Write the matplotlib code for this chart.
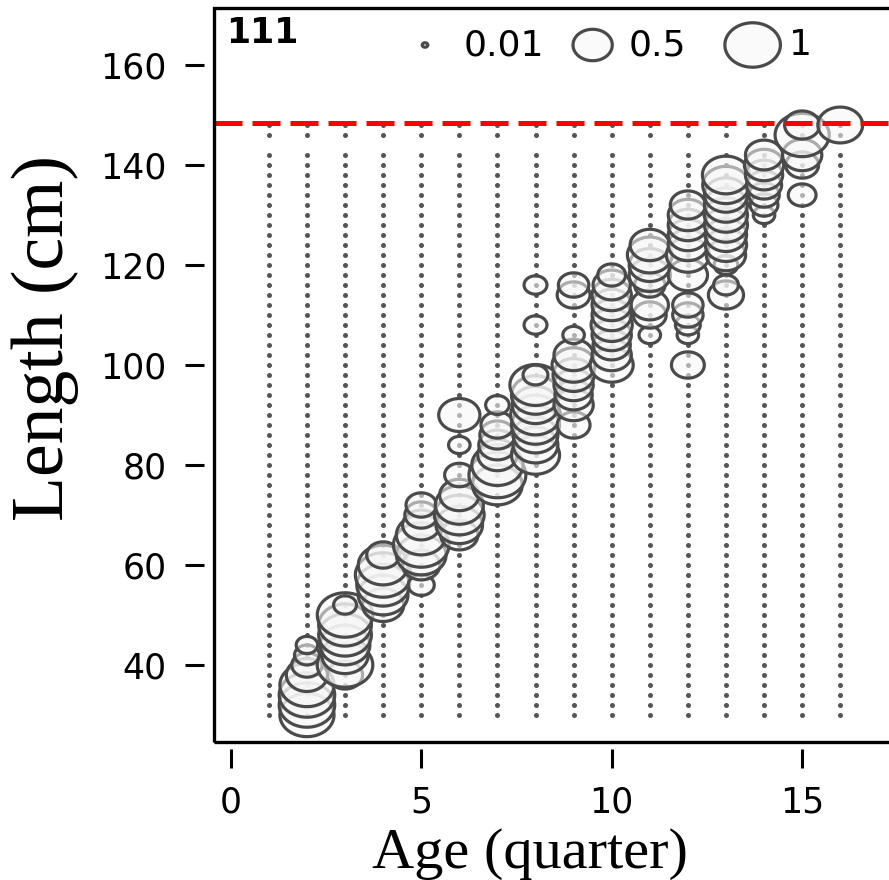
import numpy as np
import matplotlib
matplotlib.use("Agg")
import matplotlib.pyplot as plt
from matplotlib.path import Path
from matplotlib.patches import Rectangle

# ---------------- data ----------------
grid_ages = list(range(1, 17))
grid_lengths = list(range(30, 143, 2)) + [146, 148]

bubble_age = (
    [2] * 8 + [3] * 8 + [4] * 6 + [5] * 8 + [6] * 8 + [7] * 8 + [8] * 11 +
    [9] * 10 + [10] * 10 + [11] * 8 + [12] * 12 + [13] * 12 + [14] * 7 +
    [15] * 5 + [16] * 1
)
bubble_len = (
    [30, 32, 34, 36, 38, 40, 42, 44] +
    [38, 40, 42, 44, 46, 48, 50, 52] +
    [52, 54, 56, 58, 60, 62] +
    [56, 60, 62, 64, 66, 68, 70, 72] +
    [66, 68, 70, 72, 74, 78, 84, 90] +
    [76, 78, 80, 82, 84, 86, 88, 92] +
    [82, 84, 86, 88, 90, 92, 94, 96, 98, 108, 116] +
    [88, 92, 94, 96, 98, 100, 102, 106, 114, 116] +
    [100, 102, 104, 106, 108, 110, 112, 114, 116, 118] +
    [106, 110, 112, 116, 118, 120, 122, 124] +
    [100, 106, 108, 110, 112, 118, 122, 124, 126, 128, 130, 132] +
    [114, 116, 120, 122, 124, 126, 128, 130, 132, 134, 136, 138] +
    [130, 132, 134, 136, 138, 140, 142] +
    [134, 140, 142, 146, 148] +
    [148]
)
bubble_prop = (
    [0.95, 1.0, 1.0, 0.95, 0.55, 0.3, 0.2, 0.15] +
    [0.4, 1.0, 0.7, 0.8, 0.9, 0.9, 1.0, 0.17] +
    [0.55, 0.8, 0.9, 1.0, 0.8, 0.35] +
    [0.22, 0.45, 0.8, 1.0, 0.8, 0.45, 0.35, 0.3] +
    [0.45, 0.7, 0.8, 0.75, 0.5, 0.28, 0.15, 0.55] +
    [0.8, 1.05, 0.85, 0.5, 0.45, 0.4, 0.35, 0.18] +
    [0.75, 0.65, 0.65, 0.75, 0.8, 0.7, 0.75, 0.85, 0.2, 0.17, 0.17] +
    [0.35, 0.5, 0.45, 0.5, 0.55, 0.6, 0.5, 0.15, 0.35, 0.3] +
    [0.6, 0.5, 0.45, 0.5, 0.55, 0.5, 0.5, 0.5, 0.45, 0.25] +
    [0.15, 0.35, 0.45, 0.3, 0.55, 0.55, 0.65, 0.5] +
    [0.35, 0.15, 0.2, 0.3, 0.3, 0.5, 0.6, 0.5, 0.5, 0.5, 0.5, 0.4] +
    [0.4, 0.2, 0.18, 0.5, 0.55, 0.55, 0.6, 0.6, 0.6, 0.6, 0.7, 0.72] +
    [0.15, 0.25, 0.3, 0.4, 0.45, 0.5, 0.45] +
    [0.25, 0.35, 0.5, 0.95, 0.4] +
    [0.65]
)
legend_vals = [0.01, 0.5, 1]
legend_labels = ["0.01", "0.5", "1"]
panel_label = "111"
ref_length = 148.5
x_ticks = [0, 5, 10, 15]
y_ticks = [40, 60, 80, 100, 120, 140, 160]

# ---------------- figure ----------------
W, H = 889, 880
fig = plt.figure(figsize=(W / 100, H / 100), dpi=100)
ax_left, ax_right, ax_bottom, ax_top = 214, 905, 742, 8
ax = fig.add_axes([ax_left / W, (H - ax_bottom) / H,
                   (ax_right - ax_left) / W, (ax_bottom - ax_top) / H])
ax.set_xlim(-0.44, 17.7)
ax.set_ylim(24.6, 171.4)

# ellipse marker (slightly wider than tall)
t = np.linspace(0, 2 * np.pi, 100)
verts = np.column_stack([1.25 * np.cos(t), np.sin(t)])
ell = Path(verts, closed=True)

SCALE = 1600.0  # marker area per unit proportion

# grid dots
gx, gy = np.meshgrid(grid_ages, grid_lengths)
ax.scatter(gx.ravel(), gy.ravel(), s=13, marker="o", color="#555555",
           linewidths=0, zorder=2)

# bubbles
ax.scatter(bubble_age, bubble_len, s=np.array(bubble_prop) * SCALE, marker=ell,
           facecolors=(0.97, 0.97, 0.97, 0.57), edgecolors="#4a4a4a",
           linewidths=2.3, zorder=3)

# reference dashed line
ax.axhline(ref_length, color="#ff0000", lw=3.6, dashes=(5.6, 2.0), zorder=4)

# legend
leg_x = [5.1, 9.5, 13.7]
leg_tx = [6.1, 10.45, 14.65]
leg_y = 164
ax.scatter(leg_x, [leg_y] * 3, s=np.array(legend_vals) * SCALE, marker=ell,
           facecolors=(0.97, 0.97, 0.97, 0.57), edgecolors="#4a4a4a",
           linewidths=2.3, zorder=3, clip_on=False)
for x, lab in zip(leg_tx, legend_labels):
    ax.text(x, leg_y, lab, fontsize=26, family="DejaVu Sans", ha="left",
            va="center", color="black")
ax.text(-0.12, 166.5, panel_label, fontsize=25, fontweight="bold",
        family="DejaVu Sans", ha="left", va="center")

# box (no right edge visible) and detached ticks
for s in ax.spines.values():
    s.set_visible(False)
ax.spines["left"].set_visible(True)
ax.spines["bottom"].set_visible(True)
ax.spines["left"].set_position(("outward", 7))
ax.spines["bottom"].set_position(("outward", 5))
ax.spines["left"].set_linewidth(0)
ax.spines["bottom"].set_linewidth(0)
ax.add_patch(Rectangle((0, 0), 1, 1, transform=ax.transAxes, fill=False,
                       lw=2.4, edgecolor="black", clip_on=False, zorder=5))

ax.set_xticks(x_ticks)
ax.set_yticks(y_ticks)
ax.set_xticklabels([str(v) for v in x_ticks])
ax.set_yticklabels([str(v) for v in y_ticks])
ax.tick_params(axis="both", direction="out", length=14, width=2.2,
               labelsize=25, colors="black")
ax.tick_params(axis="y", pad=13)
ax.tick_params(axis="x", pad=12)
for lab in ax.get_xticklabels() + ax.get_yticklabels():
    lab.set_family("DejaVu Sans")

fig.text(530 / W, (H - 868) / H, "Age (quarter)", family="Liberation Serif",
         fontsize=42, ha="center", va="baseline")
fig.text(45 / W, 1 - 338 / H, "Length (cm)", family="Liberation Serif",
         fontsize=53, rotation=90, ha="center", va="center")

fig.savefig("out.png", dpi=100)
